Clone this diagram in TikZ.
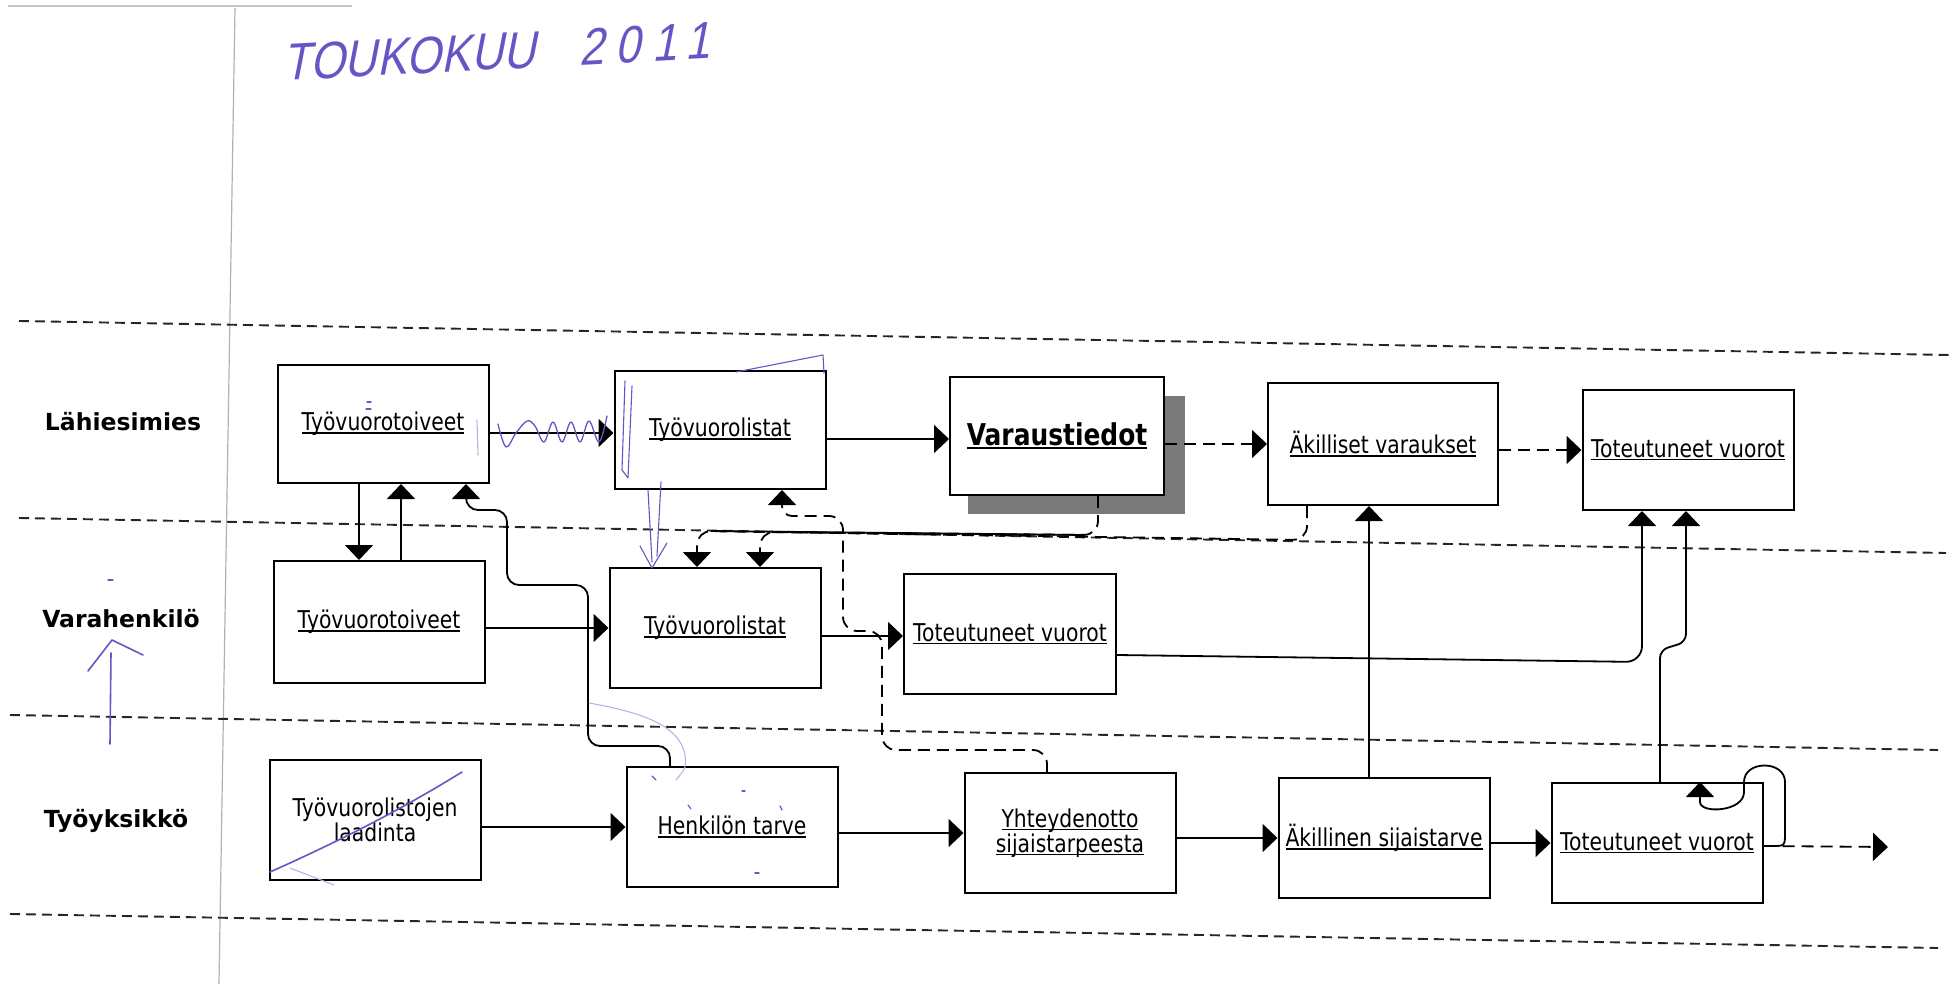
\documentclass[tikz,border=0pt]{standalone}
\usepackage{fontspec}
\usetikzlibrary{arrows.meta}
\newfontfamily\boxfont[FakeStretch=0.83]{DejaVu Sans}
\newfontfamily\lanefont{DejaVu Sans}
\newfontfamily\handfont[FakeStretch=0.86,FakeSlant=0.25]{Liberation Sans}
\definecolor{ink}{RGB}{104,84,196}
% underlined label: rule just below the baseline, as wide as the text
\newcommand{\ulin}[2][1.6pt]{\leavevmode\setbox0=\hbox{#2}\rlap{\rule[-3pt]{\wd0}{#1}}\box0}
\begin{document}
\begin{tikzpicture}[x=1pt,y=-1pt,
  box/.style={draw=black, line width=2pt, fill=white, minimum width=211pt,
    minimum height=120pt, inner sep=0pt, align=center,
    font=\boxfont\fontsize{24.5}{25}\selectfont},
  lane/.style={font=\lanefont\bfseries\fontsize{23.5}{26}\selectfont},
  flow/.style={line width=1.8pt, -{Triangle[length=15pt,width=28pt]}},
  dflow/.style={flow, dash pattern=on 12pt off 7pt},
  swim/.style={line width=1.9pt, dash pattern=on 10pt off 6pt, black!85},
  hand/.style={draw=ink, line width=1.6pt, line cap=round, line join=round},
  faint/.style={draw=ink!45, line width=1.1pt, line cap=round},
]
\useasboundingbox (0,0) rectangle (1959,984);

% paper edge and header column rule
\draw[gray!45, line width=1.2pt] (8,6) -- (352,6);
\draw[gray!60, line width=1.2pt] (235,8) -- (219,984);

% swimlane separators
\draw[swim] (19,321) -- (1950,355);
\draw[swim] (19,518) -- (1946,553);
\draw[swim] (10,715) -- (1938,750);
\draw[swim] (10,914) -- (1938,948);

% lane titles
\node[lane] (lLah) at (123,422) {Lähiesimies};
\node[lane] (lVar) at (121,619) {Varahenkilö};
\node[lane] (lTyo) at (116,821) {Työyksikkö};

% lane 1
\node[box, minimum height=118pt] (b1) at (383,424) {\ulin{Työvuorotoiveet}};
\node[box, minimum height=118pt] (b2) at (720,430) {\ulin{Työvuorolistat}};
\fill[black!52] (968,396) rectangle (1185,514);
\node[box, minimum width=214pt, minimum height=118pt] (b3) at (1057,436)
  {{\bfseries\fontsize{30}{32}\selectfont\ulin[2.2pt]{Varaustiedot}}};
\node[box, minimum width=230pt, minimum height=122pt] (b4) at (1383,444) {\ulin{Äkilliset varaukset}};
\node[box] (b5) at (1688,450) {\ulin{Toteutuneet vuorot}};

% lane 2
\node[box, minimum height=122pt] (c1) at (379,622) {\ulin{Työvuorotoiveet}};
\node[box] (c2) at (715,628) {\ulin{Työvuorolistat}};
\node[box, minimum width=212pt] (c3) at (1010,634) {\ulin{Toteutuneet vuorot}};

% lane 3
\node[box] (d1) at (375,820) {Työvuorolistojen\\laadinta};
\node[box] (d2) at (732,827) {\ulin{Henkilön tarve}};
\node[box] (d3) at (1070,833) {\ulin{Yhteydenotto}\\\ulin{sijaistarpeesta}};
\node[box] (d4) at (1384,838) {\ulin{Äkillinen sijaistarve}};
\node[box] (d5) at (1657,843) {\ulin{Toteutuneet vuorot}};
\coordinate (dout) at (1888,847);

% flows inside lane 1
\draw[flow] ([yshift=-3pt]b1.east |- b2.west) -- ([yshift=-3pt]b2.west);
\draw[flow] ([yshift=-3pt]b2.east |- b3.west) -- ([yshift=-3pt]b3.west);
\draw[dflow] (b3.east |- b4.west) -- (b4.west);
\draw[dflow] (b4.east |- b5.west) -- (b5.west);

% lane 1 <-> lane 2
\draw[flow] ([xshift=-24pt]b1.south) -- ([xshift=-24pt]b1.south |- c1.north);
\draw[flow] ([xshift=22pt]c1.north) -- ([xshift=22pt]c1.north |- b1.south);
\draw[flow, rounded corners=12pt] ([xshift=-62pt]d2.north) -- (670,746) -- (588,746)
  -- (588,585) -- (507,585) -- (507,510) -- (466,510) -- ([xshift=83pt]b1.south);
\draw[dflow, rounded corners=14pt] ([xshift=-23pt]d3.north) -- (1047,750) -- (882,750)
  -- (882,631) -- (843,631) -- (843,516) [rounded corners=10pt] -- (782,516) -- ([xshift=62pt]b2.south);
\draw[dflow, rounded corners=14pt] ([xshift=41pt]b3.south) -- (1098,535) -- (760,532)
  -- ([xshift=45pt]c2.north);
\draw[dflow, rounded corners=14pt] ([xshift=-76pt]b4.south) -- (1307,540) -- (697,531)
  -- ([xshift=-18pt]c2.north);
\draw[line width=1.8pt] (711,531) -- (1085,535);

% flows inside lane 2
\draw[flow] (c1.east |- c2.west) -- (c2.west);
\draw[flow] ([yshift=-2pt]c2.east |- c3.west) -- ([yshift=-2pt]c3.west);
\draw[flow, rounded corners=16pt] ([yshift=-21pt]c3.east) -- (1642,662) -- ([xshift=-46pt]b5.south);

% lane 3 upwards
\draw[flow] ([xshift=-15pt]d4.north) -- ([xshift=-15pt]d4.north |- b4.south);
\draw[flow, rounded corners=8pt] ([xshift=3pt]d5.north) -- (1660,650) -- (1686,642) -- ([xshift=-2pt]b5.south);

% flows inside lane 3
\draw[flow] (d1.east |- d2.west) -- (d2.west);
\draw[flow] (d2.east |- d3.west) -- (d3.west);
\draw[flow] (d3.east |- d4.west) -- (d4.west);
\draw[flow] (d4.east |- d5.west) -- (d5.west);
\draw[dflow] ([yshift=-3pt]d5.east) -- (dout);
\draw[flow] ([yshift=-3pt]d5.east) -- (1772,846) .. controls (1785,846) .. (1785,832)
  -- (1785,782) .. controls (1785,760) and (1744,760) .. (1744,782) -- (1744,792)
  .. controls (1744,812) and (1700,814) .. (1700,802) -- ([xshift=43pt]d5.north);

% pen notes
\node[text=ink, font=\handfont\fontsize{52}{54}\selectfont, rotate=3, anchor=base west]
  (date) at (280,81) {TOUKOKUU\hspace{44pt}{\addfontfeatures{LetterSpace=22}2011}};
\draw[hand] (270,872) .. controls (360,832) and (420,798) .. (462,772);
\draw[faint] (290,868) -- (334,885);
\draw[hand] (110,744) -- (111,653);
\draw[hand] (88,671) -- (112,640) -- (143,655);
\draw[hand, line width=1.3pt] plot[smooth, tension=0.6] coordinates {(498,424) (506,447) (516,433)
  (527,421) (535,426) (544,442) (553,422) (562,442) (571,422) (580,442) (589,421) (599,442) (607,416)};
\draw[hand, line width=1.1pt] (625,381) -- (622,470) -- (628,478) -- (632,386);
\draw[faint] (477,420) -- (478,455);
\draw[hand, line width=1.1pt] (736,372) -- (823,355) -- (824,373);
\draw[hand, line width=1.1pt] (648,490) -- (652,562);
\draw[hand, line width=1.1pt] (661,482) -- (657,556);
\draw[hand, line width=1.1pt] (640,546) -- (652,568) -- (667,543);
\draw[faint] (589,703) .. controls (640,712) and (680,725) .. (685,755) .. controls (686,768) .. (676,780);
\draw[hand, line width=1.2pt] (652,776) -- (656,780);
\draw[hand, line width=1.2pt] (688,805) -- (691,809);
\draw[hand, line width=1.2pt] (742,791) -- (745,791);
\draw[hand, line width=1.2pt] (780,806) -- (782,810);
\draw[hand, line width=1.4pt] (755,873) -- (759,873);
\draw[hand, line width=1.2pt] (367,402) -- (371,402);
\draw[hand, line width=1.2pt] (366,409) -- (371,409);
\draw[hand, line width=1.2pt] (108,580) -- (113,580);
\end{tikzpicture}
\end{document}
